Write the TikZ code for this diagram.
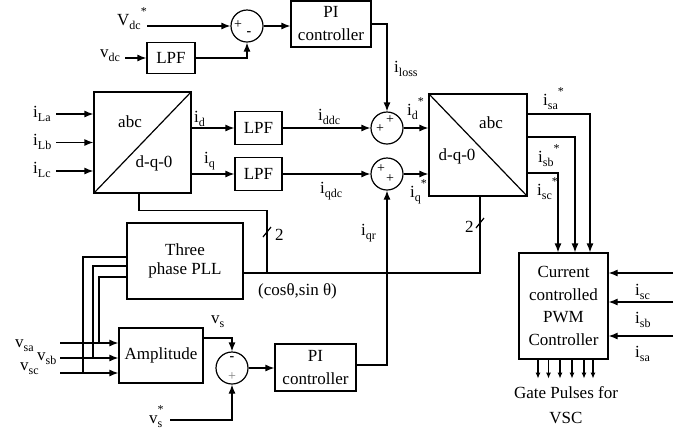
\documentclass[tikz,border=0pt]{standalone}
\usepackage{fontspec}
\setmainfont{Liberation Serif}
\usetikzlibrary{arrows.meta,positioning,calc}
\newcommand{\sbs}[1]{\raisebox{-0.28em}{\fontsize{12}{12}\selectfont #1}}
\newcommand{\sps}{\raisebox{0.55em}{\fontsize{12}{12}\selectfont *}}
\tikzset{
  blk/.style={rectangle,draw,line width=1.2pt,fill=white,inner sep=1pt,
              align=center,font=\fontsize{17}{23}\selectfont},
  sumc/.style={circle,draw,line width=1.2pt,minimum size=32pt,inner sep=0pt},
  sgn/.style={inner sep=0pt,font=\fontsize{14}{14}\selectfont},
  lbl/.style={inner sep=0pt,anchor=base west,font=\fontsize{17}{20}\selectfont},
  wire/.style={line width=1.2pt},
  sig/.style={line width=1.2pt,-{Latex[length=9pt,width=7pt]}},
  gate/.style={line width=1.2pt,-{Latex[length=6pt,width=5pt]}},
}
\begin{document}
\begin{tikzpicture}[x=1pt,y=-1pt]
  \useasboundingbox (0,0) rectangle (695,432);
  % dc-link voltage loop
  \node[sumc] (s1) at (247,26) {};
  \node[blk,minimum width=80pt,minimum height=46pt] (pi1) at (331,24) {PI\\controller};
  \node[blk,minimum width=48pt,minimum height=31pt] (lpf1) at (171,58) {LPF};
  \coordinate (vdcr) at (147,26);
  \coordinate (vdcm) at (125,58);
  \node[lbl] at (117,25) {V\sbs{dc}\sps};
  \node[lbl] at (100,57) {v\sbs{dc}};
  \node[sgn] at ($(s1)+(-9,-1)$) {+};
  \node[sgn] at ($(s1)+(2,8)$) {\textbf{-}};
  \draw[sig] (vdcr) -- (s1.west);
  \draw[sig] (vdcm) -- (lpf1.west);
  \draw[sig] (lpf1.east) -| (s1.south);
  \draw[sig] (s1.east) -- (s1.east -| pi1.west);
  % load current transformation
  \node[blk,minimum width=97pt,minimum height=101pt] (dq1) at (142.5,142.5) {};
  \draw[wire] (dq1.south west) -- (dq1.north east);
  \node[font=\fontsize{17}{20}\selectfont] at (130,122) {abc};
  \node[font=\fontsize{17}{20}\selectfont] at (154,163) {d-q-0};
  \foreach \nm/\dy/\yb in {La/28.5/117,Lb/0/145,Lc/-28.5/173}{
    \coordinate (i\nm) at ($(dq1.west)+(-37,-\dy)$);
    \draw[sig] (i\nm) -- ([yshift=\dy pt]dq1.west);
    \node[lbl] at (33,\yb) {i\sbs{\nm}};
  }
  \node[blk,minimum width=47pt,minimum height=33pt] (lpf2) at (258.5,128) {LPF};
  \node[blk,minimum width=47pt,minimum height=33pt] (lpf3) at (258.5,174) {LPF};
  \draw[sig] (lpf2.west -| dq1.east) -- (lpf2.west);
  \draw[sig] (lpf3.west -| dq1.east) -- (lpf3.west);
  \node[lbl] at (194,122) {i\sbs{d}};
  \node[lbl] at (204,163) {i\sbs{q}};
  % reference summing
  \node[sumc] (s2) at (387,128) {};
  \node[sumc] (s3) at (387,174) {};
  \node[sgn] at ($(s2)+(-7,1)$) {+};
  \node[sgn] at ($(s2)+(3,-8)$) {+};
  \node[sgn] at ($(s3)+(-6,-5)$) {+};
  \node[sgn] at ($(s3)+(3,5)$) {+};
  \draw[sig] (lpf2.east) -- (s2.west);
  \draw[sig] (lpf3.east) -- (s3.west);
  \draw[sig] (pi1.east) -| (s2.north);
  \node[lbl] at (318,120) {i\sbs{ddc}};
  \node[lbl] at (320,193) {i\sbs{qdc}};
  \node[lbl] at (394,72) {i\sbs{loss}};
  % inverse transformation
  \node[blk,minimum width=98pt,minimum height=102pt] (dq2) at (478,145) {};
  \draw[wire] (dq2.north west) -- (dq2.south east);
  \node[font=\fontsize{17}{20}\selectfont] at (491,123) {abc};
  \node[font=\fontsize{17}{20}\selectfont] at (457,156) {d-q-0};
  \draw[sig] (s2.east) -- (s2.east -| dq2.west);
  \draw[sig] (s3.east) -- (s3.east -| dq2.west);
  \node[lbl] at (407,115) {i\sbs{d}\sps};
  \node[lbl] at (410,197) {i\sbs{q}\sps};
  % PWM controller
  \node[blk,minimum width=89pt,minimum height=106pt,font=\fontsize{17}{22.5}\selectfont]
    (pwm) at (563.5,306) {Current\\controlled\\PWM\\Controller};
  \draw[sig] ([yshift=31pt]dq2.east) -| ([xshift=26.5pt]pwm.north);
  \draw[sig] ([yshift=8pt]dq2.east) -| ([xshift=11.5pt]pwm.north);
  \draw[sig] ([yshift=-28pt]dq2.east) -| ([xshift=-5.5pt]pwm.north);
  \node[lbl] at (543,105) {i\sbs{sa}\sps};
  \node[lbl] at (538,162) {i\sbs{sb}\sps};
  \node[lbl] at (537,195) {i\sbs{sc}\sps};
  \foreach \nm/\yy/\yb in {sc/273/295,sb/302/323,sa/336/357}{
    \coordinate (m\nm) at (673,\yy);
    \draw[sig] (m\nm) -- (m\nm -| pwm.east);
    \node[lbl] at (635,\yb) {i\sbs{\nm}};
  }
  \foreach \dx in {-25.5,-15,-3.5,8.5,20.5,29.5}
    \draw[gate] ([xshift=\dx pt]pwm.south) -- ++(0,19);
  \node[align=center,inner sep=0pt,font=\fontsize{17}{25}\selectfont] (gp) at (566,405)
    {Gate Pulses for\\VSC};
  % PLL
  \node[blk,minimum width=116pt,minimum height=76pt,font=\fontsize{17}{19}\selectfont]
    (pll) at (185,261) {Three\\phase PLL};
  \coordinate (fb) at (267,273);
  \draw[wire] ([xshift=-3.5pt]dq1.south) -- ++(0,17) -| (fb);
  \draw[wire] ([yshift=-12pt]pll.east) -- (fb) -| ([xshift=2pt]dq2.south);
  \draw[wire] (263,237) -- (271,227);
  \node[lbl] at (275,240) {2};
  \draw[wire] (476,228) -- (484,218);
  \node[lbl] at (465,232) {2};
  \node[lbl] at (258,295) {(cosθ,sin θ)};
  % terminal voltage loop
  \node[blk,minimum width=84pt,minimum height=55pt] (amp) at (161,355.5) {Amplitude};
  \coordinate (ta) at (99,343);
  \coordinate (tb) at (93,358);
  \coordinate (tc) at (83,373);
  \foreach \nm in {a,b,c}{
    \coordinate (vs\nm) at (60,0 |- t\nm);
    \draw[sig] (vs\nm) -- (vs\nm -| amp.west);
  }
  \draw[wire] (ta) |- ([yshift=-16pt]pll.west);
  \draw[wire] (tb) |- ([yshift=-5pt]pll.west);
  \draw[wire] (tc) |- ([yshift=4pt]pll.west);
  \node[lbl] at (15,347) {v\sbs{sa}};
  \node[lbl] at (37,360) {v\sbs{sb}};
  \node[lbl] at (20,370) {v\sbs{sc}};
  \node[sumc] (s4) at (232,368) {};
  \node[sgn] at ($(s4)+(0,-9)$) {\textbf{-}};
  \node[sgn,gray] at ($(s4)+(0,9)$) {+};
  \node[blk,minimum width=81pt,minimum height=47pt] (pi2) at (315.5,367.5) {PI\\controller};
  \coordinate (vsr) at (170,420);
  \draw[sig] ([yshift=17.5pt]amp.east) -| (s4.north);
  \draw[sig] (vsr) -| (s4.south);
  \draw[sig] (s4.east) -- (s4.east -| pi2.west);
  \draw[sig] ([yshift=2.5pt]pi2.east) -| (s3.south);
  \node[lbl] at (211,323) {v\sbs{s}};
  \node[lbl] at (149,423) {v\rlap{\sbs{s}}\sps};
  \node[lbl] at (361,235) {i\sbs{qr}};
\end{tikzpicture}
\end{document}
